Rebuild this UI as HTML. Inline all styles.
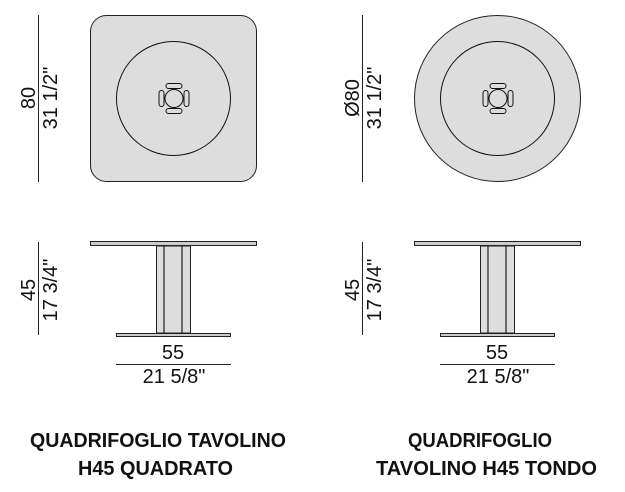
<!DOCTYPE html>
<html><head><meta charset="utf-8"><style>
html,body{margin:0;padding:0;background:#fff;width:625px;height:492px;overflow:hidden}
svg{display:block}
text{font-family:"Liberation Sans",sans-serif;fill:#111}
</style></head><body>
<svg width="625" height="492" viewBox="0 0 625 492" xmlns="http://www.w3.org/2000/svg">
<defs>
<g id="base">
  <rect x="-8" y="-15" width="16" height="5" rx="2.5" fill="#ddd" stroke="#111" stroke-width="1"/>
  <rect x="-8" y="10" width="16" height="5" rx="2.5" fill="#ddd" stroke="#111" stroke-width="1"/>
  <rect x="-15" y="-8" width="5" height="16" rx="2.5" fill="#ddd" stroke="#111" stroke-width="1"/>
  <rect x="10" y="-8" width="5" height="16" rx="2.5" fill="#ddd" stroke="#111" stroke-width="1"/>
  <circle cx="0" cy="0" r="9" fill="#ddd" stroke="#111" stroke-width="1"/>
</g>
<g id="side">
  <rect x="90.5" y="241.5" width="166" height="4" fill="#ccc" stroke="#222" stroke-width="1"/>
  <rect x="156.5" y="246" width="34" height="87" fill="#ddd" stroke="#222" stroke-width="1"/>
  <line x1="164" y1="246" x2="164" y2="333" stroke="#222" stroke-width="1.2"/>
  <line x1="182" y1="246" x2="182" y2="333" stroke="#222" stroke-width="1.2"/>
  <rect x="116.5" y="333.5" width="114" height="3" fill="#ccc" stroke="#222" stroke-width="1"/>
  <line x1="38.5" y1="242" x2="38.5" y2="335" stroke="#222" stroke-width="1"/>
  <text transform="translate(35,290) rotate(-90)" font-size="20" text-anchor="middle">45</text>
  <text transform="translate(57,290) rotate(-90)" font-size="20" text-anchor="middle">17 3/4"</text>
  <text x="173" y="359" font-size="20" text-anchor="middle">55</text>
  <line x1="116" y1="364.5" x2="231" y2="364.5" stroke="#222" stroke-width="1"/>
  <text x="174" y="383" font-size="20" text-anchor="middle">21 5/8"</text>
</g>
</defs>
<line x1="38.5" y1="15" x2="38.5" y2="182" stroke="#222" stroke-width="1"/>
<text transform="translate(35,98) rotate(-90)" font-size="20" text-anchor="middle">80</text>
<text transform="translate(57,98) rotate(-90)" font-size="20" text-anchor="middle">31 1/2"</text>
<rect x="90.5" y="15.5" width="166" height="166" rx="16" fill="#ddd" stroke="#222" stroke-width="1"/>
<circle cx="173.5" cy="98.5" r="57" fill="none" stroke="#111" stroke-width="1"/>
<use href="#base" x="174" y="98.5"/>
<line x1="362.5" y1="15" x2="362.5" y2="182" stroke="#222" stroke-width="1"/>
<text transform="translate(359,98) rotate(-90)" font-size="20" text-anchor="middle">Ø80</text>
<text transform="translate(381,98) rotate(-90)" font-size="20" text-anchor="middle">31 1/2"</text>
<circle cx="497.5" cy="98.5" r="83" fill="#ddd" stroke="#222" stroke-width="1"/>
<circle cx="497.5" cy="98.5" r="57" fill="none" stroke="#111" stroke-width="1"/>
<use href="#base" x="498" y="98.5"/>
<use href="#side"/>
<use href="#side" x="324"/>
<g font-weight="bold" font-size="20">
<text x="30" y="447" textLength="256" lengthAdjust="spacingAndGlyphs">QUADRIFOGLIO TAVOLINO</text>
<text x="78" y="475" textLength="155" lengthAdjust="spacingAndGlyphs">H45 QUADRATO</text>
<text x="408" y="447" textLength="144" lengthAdjust="spacingAndGlyphs">QUADRIFOGLIO</text>
<text x="376" y="475" textLength="221" lengthAdjust="spacingAndGlyphs">TAVOLINO H45 TONDO</text>
</g>
</svg>
</body></html>
